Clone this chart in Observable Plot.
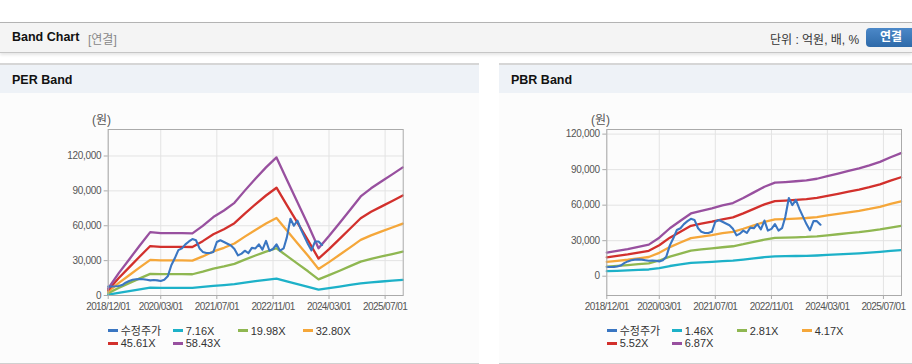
<!DOCTYPE html>
<html><head><meta charset="utf-8">
<script src="https://cdn.jsdelivr.net/npm/d3@7"></script>
<script src="https://cdn.jsdelivr.net/npm/@observablehq/plot@0.6"></script>
<style>
body{margin:0;width:912px;height:364px;overflow:hidden;background:#fff;position:relative;font-family:"Liberation Sans","Noto Sans CJK KR",sans-serif;}
.abs{position:absolute}
.topbar{position:absolute;left:0;top:22px;width:912px;height:29px;background:#f4f4f4;border-top:1px solid #b3b3b3;border-bottom:1px solid #c6c6c6;box-shadow:0 2px 3px rgba(0,0,0,0.10)}
.title{position:absolute;left:12px;top:7px;font-size:12.5px;font-weight:bold;color:#111}
.sub{position:absolute;left:88px;top:7px;font-size:12px;color:#888}
.unit{position:absolute;left:770px;top:7px;font-size:12px;color:#333}
.btn{position:absolute;left:866px;top:5px;width:50px;height:19px;border-radius:4px;background:linear-gradient(#4b88c8,#2e6aa9);color:#fff;font-weight:bold;font-size:12px;text-align:center;line-height:19px}
.panel{position:absolute;top:63px;height:298px;background:#fcfcfc;border-top:2px solid #d6d6d6;border-bottom:1px solid #d0d0d0}
.phead{position:absolute;left:0;top:0;right:0;height:28px;background:#eef2f7}
.phead span{position:absolute;left:12px;top:8px;font-size:12.5px;font-weight:bold;color:#111}
.ylab{position:absolute;font-size:12px;color:#555}
.leg{position:absolute;font-size:11px;color:#333;white-space:nowrap;line-height:12px}
.leg i{display:inline-block;width:10px;height:3px;vertical-align:middle;margin-right:3px;margin-top:-2px}
svg g[aria-label="x-axis tick label"] text{letter-spacing:-0.6px}
svg g[aria-label="y-axis tick label"] text{letter-spacing:-0.3px}
</style>
</head><body>
<div class="topbar">
  <span class="title">Band Chart</span><span class="sub">[연결]</span>
  <span class="unit">단위 : 억원, 배, %</span>
  <span class="btn">연결</span>
</div>
<div class="panel" style="left:0;width:479px"><div class="phead"><span>PER Band</span></div></div>
<div class="panel" style="left:499px;width:413px"><div class="phead"><span>PBR Band</span></div></div>
<div class="ylab" style="left:92px;top:110px">(원)</div>
<div class="ylab" style="left:591px;top:110px">(원)</div>
<div id="per" class="abs" style="left:0;top:93px"></div>
<div id="pbr" class="abs" style="left:499px;top:93px"></div>
<div id="legs"></div>
<script>
// ---- data ----
const bandDates = ["2018-12-01","2019-03-01","2019-06-01","2019-09-01","2019-12-01","2020-03-01","2020-06-01","2020-09-01","2020-12-01","2021-03-01","2021-06-01","2021-09-01","2021-12-01","2022-03-01","2022-06-01","2022-09-01","2022-12-01","2023-03-01","2023-06-01","2023-09-01","2023-12-01","2024-03-01","2024-06-01","2024-09-01","2024-12-01","2025-03-01","2025-06-01","2025-09-01","2025-12-01"];
const eps = [103,325,531,736,933,919,919,919,915,1025,1155,1251,1364,1544,1720,1886,2033,1703,1373,1042,695,875,1068,1263,1458,1578,1681,1783,1886];
// BPS (원)
const bps = [2897,3115,3333,3610,3886,4731,5895,6812,7715,8035,8341,8705,8996,9607,10306,10990,11499,11572,11674,11790,11980,12300,12606,12940,13246,13624,14061,14629,15138];
const perMultiples = [7.16,19.98,32.80,45.61,58.43];
const pbrMultiples = [1.46,2.81,4.17,5.52,6.87];
const perNames = ["수정주가","7.16X","19.98X","32.80X","45.61X","58.43X"];
const pbrNames = ["수정주가","1.46X","2.81X","4.17X","5.52X","6.87X"];
const priceDates = "2018-12 2019-01 2019-02 2019-03 2019-04 2019-05 2019-06 2019-07 2019-08 2019-09 2019-10 2019-11 2019-12 2020-01 2020-02 2020-03 2020-04 2020-05 2020-06 2020-07 2020-08 2020-09 2020-10 2020-11 2020-12 2021-01 2021-02 2021-03 2021-04 2021-05 2021-06 2021-07 2021-08 2021-09 2021-10 2021-11 2021-12 2022-01 2022-02 2022-03 2022-04 2022-05 2022-06 2022-07 2022-08 2022-09 2022-10 2022-11 2022-12 2023-01 2023-02 2023-03 2023-04 2023-05 2023-06 2023-07 2023-08 2023-09 2023-10 2023-11 2023-12 2024-01".split(" ");
const price = [7800,7800,7900,8200,9000,11000,12500,13500,14000,14200,14000,13500,13000,13300,13000,12500,13500,16500,26000,32000,39000,40500,44000,46500,48500,47500,40500,37500,36500,36500,37500,46000,47500,46000,44500,43000,40000,34500,36000,38500,36500,41000,40500,44000,39500,47000,38500,40000,44000,38500,40500,50000,66000,60000,64500,57000,50500,44000,38800,46500,46500,43500];
const xTicks = ["2018-12-01","2020-03-01","2021-07-01","2022-11-01","2024-03-01","2025-07-01"];
const yTicksPer = [0,30000,60000,90000,120000];
const yTicksPbr = [0,30000,60000,90000,120000];
const colors = ["#3a76c2","#1db1c8","#8fb751","#f5a73a","#d2302c","#98509f"];

function chart(base, multiples, yDomain, yTicks, width, mL, mR) {
  const priceRows = priceDates.map((d,i)=>({date:new Date(d+"-01"), value:price[i]}));
  const bandMarks = multiples.map((k,j)=>Plot.line(bandDates.map((d,i)=>({date:new Date(d), value:base[i]*k})),
    {x:"date", y:"value", stroke:colors[j+1], strokeWidth:2.3}));
  return Plot.plot({
    width, height:227, marginLeft:mL, marginRight:mR, marginTop:36, marginBottom:25,
    style:{fontFamily:"Liberation Sans, sans-serif", fontSize:"10px", background:"transparent", overflow:"visible"},
    x:{type:"utc", domain:[new Date("2018-12-01"), new Date("2025-12-05")]},
    y:{domain:yDomain},
    marks:[
      Plot.gridX(xTicks.map(d=>new Date(d)), {stroke:"#e3e3e3", strokeOpacity:1}),
      Plot.gridY(yTicks, {stroke:"#e3e3e3", strokeOpacity:1}),
      Plot.axisX(xTicks.map(d=>new Date(d)), {tickFormat:d3.utcFormat("%Y/%m/%d"), tickSize:4, tickPadding:3, stroke:"#aaa", fill:"#555", label:null}),
      Plot.axisY(yTicks, {tickFormat:d3.format(","), tickSize:4, tickPadding:3, stroke:"#aaa", fill:"#555", label:null}),
      ...bandMarks,
      Plot.line(priceRows, {x:"date", y:"value", stroke:colors[0], strokeWidth:2.1}),
      Plot.frame({stroke:"#aaa"})
    ]
  });
}
document.getElementById("per").append(chart(eps, perMultiples, [0,142800], yTicksPer, 479, 107.7, 76.3));
document.getElementById("pbr").append(chart(bps, pbrMultiples, [-16300,123900], yTicksPbr, 413, 107.3, 11));

function legend(names, x0, y0) {
  const legs = document.getElementById("legs");
  names.forEach((n,i)=>{
    const el = document.createElement("div");
    el.className = "leg";
    el.style.left = (x0 + (i%4)*65) + "px";
    el.style.top = (y0 + Math.floor(i/4)*12.7) + "px";
    el.innerHTML = `<i style="background:${colors[i]}"></i>${n}`;
    legs.append(el);
  });
}
legend(perNames, 107.7, 324.5);
legend(pbrNames, 606.7, 324.5);
</script>
</body></html>
